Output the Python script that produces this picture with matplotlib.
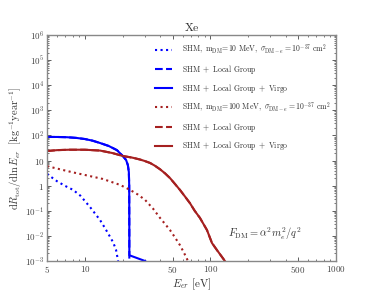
import math
import matplotlib
matplotlib.use('Agg')
from matplotlib import pyplot as plt
from matplotlib.ticker import FixedLocator, FuncFormatter, LogLocator, NullFormatter

plt.rcParams['mathtext.fontset'] = 'cm'
plt.rcParams['font.family'] = 'serif'
plt.rcParams['font.serif'] = ['cmr10', 'DejaVu Serif']
plt.rcParams['axes.formatter.use_mathtext'] = True

# m_DM = 10 MeV, blue
E_shm10 = [5.0, 5.1, 6.0, 6.9, 8.05, 9.2, 11.0, 13.2, 14.5, 15.9, 16.8, 17.7, 18.4]
R_shm10 = [3.0, 2.7, 1.5, 1.0, 0.68, 0.4, 0.14, 0.043, 0.02, 0.009, 0.0055, 0.0028, 0.001]

E_lg10 = [5.0, 6.0, 7.2, 8.5, 10.0, 11.5, 13.2, 15.5, 18.0, 20.1, 21.3, 22.0, 22.4, 22.55, 22.6, 22.6]
R_lg10 = [87, 87, 85, 80, 72, 62, 50, 38, 26, 15, 10.5, 6.6, 3.5, 1.0, 0.01, 1e-4]

E_vir10 = E_lg10[:-1] + [22.6, 30.2]
R_vir10 = R_lg10[:-1] + [0.0017, 0.001]

# m_DM = 100 MeV, red
E_shm100 = [5.0, 6.7, 8.0, 10.0, 13.9, 19.1, 22.9, 26.5, 30.2, 35.0, 39.7, 43.5, 47.7, 52.0, 57.2, 62.0, 66.3]
R_shm100 = [6.0, 4.2, 3.4, 2.67, 1.85, 1.07, 0.68, 0.44, 0.27, 0.12, 0.052, 0.03, 0.017, 0.009, 0.0043, 0.002, 0.001]

E_lg100 = [5.0, 6.0, 7.5, 10.0, 13.2, 16.5, 20.1, 24.0, 27.5, 30.0, 33.1, 36.0, 39.7, 43.5, 47.7, 52.0, 57.2,
           62.5, 68.8, 75.0, 82.6, 94.0, 103, 113, 122, 130.6]
R_lg100 = [24, 26, 27, 27, 25, 20, 15.2, 13, 11, 9.6, 8.0, 6.3, 4.5, 3.1, 2.0, 1.2, 0.68,
           0.38, 0.2, 0.1, 0.052, 0.017, 0.0052, 0.0027, 0.0016, 0.001]

E_vir100 = E_lg100
R_vir100 = R_lg100

blue = '#0000ff'
red = '#a52020'

fig = plt.figure(figsize=(3.74, 2.99), dpi=100)
ax = fig.add_axes([0.126, 0.127, 0.772, 0.756])

ax.plot(E_shm10, R_shm10, ':', color=blue, lw=1.5,
        label=r'$\mathrm{SHM,\ m_{DM}\!=\!10\ MeV,\ }\sigma_{\mathrm{DM}-e}=10^{-37}\ \mathrm{cm}^2$')
ax.plot(E_lg10, R_lg10, '--', color=blue, lw=1.5, label=r'$\mathrm{SHM\ +\ Local\ Group}$')
ax.plot(E_vir10, R_vir10, '-', color=blue, lw=1.5, label=r'$\mathrm{SHM\ +\ Local\ Group\ +\ Virgo}$')
ax.plot(E_shm100, R_shm100, ':', color=red, lw=1.5,
        label=r'$\mathrm{SHM,\ m_{DM}\!=\!100\ MeV,\ }\sigma_{\mathrm{DM}-e}=10^{-37}\ \mathrm{cm}^2$')
ax.plot(E_lg100, R_lg100, '--', color=red, lw=1.5, label=r'$\mathrm{SHM\ +\ Local\ Group}$')
ax.plot(E_vir100, R_vir100, '-', color=red, lw=1.5, label=r'$\mathrm{SHM\ +\ Local\ Group\ +\ Virgo}$')

ax.set_xscale('log')
ax.set_yscale('log')
ax.set_xlim(5, 1000)
ax.set_ylim(1e-3, 1e6)

ax.xaxis.set_major_locator(FixedLocator([5, 10, 50, 100, 500, 1000]))
ax.xaxis.set_major_formatter(FuncFormatter(lambda v, p: r'$%d$' % v))
ax.xaxis.set_minor_locator(LogLocator(base=10, subs=range(2, 10)))
ax.xaxis.set_minor_formatter(NullFormatter())

def yfmt(v, p):
    if abs(v - 1) < 1e-9:
        return r'$1$'
    if abs(v - 10) < 1e-9:
        return r'$10$'
    return r'$10^{%d}$' % round(math.log10(v))

ax.yaxis.set_major_locator(FixedLocator([10.0 ** k for k in range(-3, 7)]))
ax.yaxis.set_major_formatter(FuncFormatter(yfmt))
ax.yaxis.set_minor_locator(LogLocator(base=10, subs=range(2, 10), numticks=20))
ax.yaxis.set_minor_formatter(NullFormatter())

ax.tick_params(which='both', direction='in', top=True, right=True, labelsize=6.5, colors='#444444', pad=2)
ax.tick_params(which='major', length=3, width=0.6)
ax.tick_params(which='minor', length=1.6, width=0.5)
for s in ax.spines.values():
    s.set_color('#888888')
    s.set_linewidth(1.0)

ax.set_title(r'$\mathrm{Xe}$', fontsize=8.5, pad=3, color='#333333')
ax.set_xlabel(r'$E_{er}\ [\mathrm{eV}]$', fontsize=8, labelpad=1, color='#333333')
ax.set_ylabel(r'$\mathrm{d}R_{\rm tot}/\mathrm{d}\ln E_{er}\ \ [\mathrm{kg}^{-1}\mathrm{year}^{-1}]$',
              fontsize=7.5, labelpad=1, color='#333333')

ax.text(0.88, 0.12, r'$F_{\rm DM}=\alpha^2 m_e^2/q^2$', transform=ax.transAxes,
        ha='right', va='center', fontsize=7.5, color='#333333')

leg = ax.legend(loc='upper right', bbox_to_anchor=(1.0, 0.99), frameon=False, fontsize=5.6,
                handlelength=2.2, handletextpad=1.2, labelspacing=0.75, borderaxespad=0.3)
for t in leg.get_texts():
    t.set_color('#333333')

fig.savefig('out.png', dpi=100)
